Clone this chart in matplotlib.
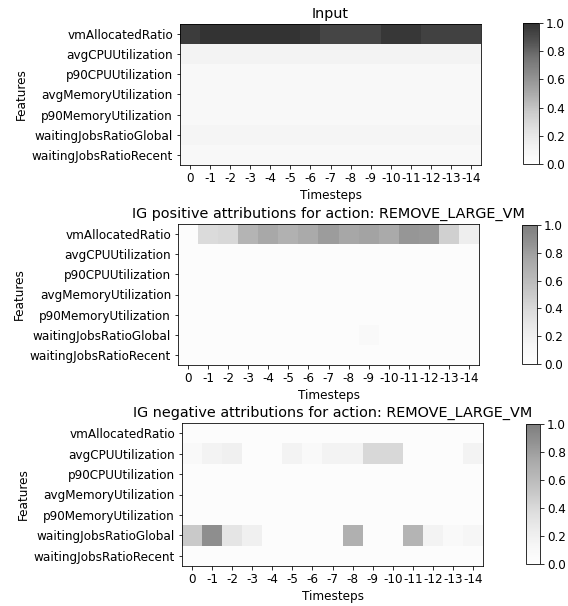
import numpy as np
from matplotlib import pyplot as plt

features = ['vmAllocatedRatio', 'avgCPUUtilization', 'p90CPUUtilization',
            'avgMemoryUtilization', 'p90MemoryUtilization',
            'waitingJobsRatioGlobal', 'waitingJobsRatioRecent']
timesteps = ['0', '-1', '-2', '-3', '-4', '-5', '-6', '-7', '-8', '-9',
             '-10', '-11', '-12', '-13', '-14']

# Input values (rows = features, cols = timesteps)
input_vals = [
    [0.96, 1.0, 1.0, 1.0, 1.0, 1.0, 0.98, 0.92, 0.92, 0.92, 0.98, 0.98, 0.94, 0.94, 0.94],
    [0.12] * 15,
    [0.07] * 15,
    [0.07] * 15,
    [0.07] * 15,
    [0.10] * 15,
    [0.07] * 15,
]

# positive attributions
pos_vals = [
    [0.05, 0.39, 0.41, 0.66, 0.75, 0.68, 0.74, 0.82, 0.76, 0.78, 0.74, 0.85, 0.84, 0.46, 0.23],
    [0.04] * 15,
    [0.04] * 15,
    [0.04] * 15,
    [0.04] * 15,
    [0.04] * 9 + [0.09] + [0.04] * 5,
    [0.04] * 15,
]

# negative attributions
neg_vals = [
    [0.05] * 15,
    [0.1, 0.17, 0.2, 0.05, 0.05, 0.17, 0.1, 0.17, 0.17, 0.41, 0.41, 0.05, 0.05, 0.05, 0.17],
    [0.05] * 15,
    [0.05] * 15,
    [0.05] * 15,
    [0.51, 0.9, 0.31, 0.2, 0.05, 0.05, 0.05, 0.05, 0.69, 0.05, 0.05, 0.66, 0.17, 0.1, 0.14],
    [0.05] * 15,
]

plt.rcParams['font.size'] = 12
plt.rcParams['axes.titlesize'] = 14.4

W, H = 568, 606
fig = plt.figure(figsize=(W / 72, H / 72), dpi=72)


def box(x0, y0, x1, y1):
    # pixel box -> figure fraction
    return [x0 / W, 1 - y1 / H, (x1 - x0) / W, (y1 - y0) / H]


panels = [
    (input_vals, 'Input', 0.8, box(180, 24, 481, 165), box(523, 23, 539, 164)),
    (pos_vals, 'IG positive attributions for action: REMOVE_LARGE_VM', 0.5,
     box(178, 224, 479, 365), box(522, 225, 537, 364)),
    (neg_vals, 'IG negative attributions for action: REMOVE_LARGE_VM', 0.5,
     box(182, 423, 483, 566), box(526, 424, 540, 564)),
]

for vals, title, alpha, axpos, cpos in panels:
    ax = fig.add_axes(axpos)
    im = ax.imshow(np.array(vals), cmap='Greys', vmin=0, vmax=1, alpha=alpha,
                   aspect='auto')
    ax.set_xticks(range(len(timesteps)))
    ax.set_xticklabels(timesteps)
    ax.set_yticks(range(len(features)))
    ax.set_yticklabels(features)
    ax.set_xlabel('Timesteps')
    ax.set_ylabel('Features')
    ax.set_title(title)
    cax = fig.add_axes(cpos)
    fig.colorbar(im, cax=cax)

fig.savefig('out.png', dpi=72)
